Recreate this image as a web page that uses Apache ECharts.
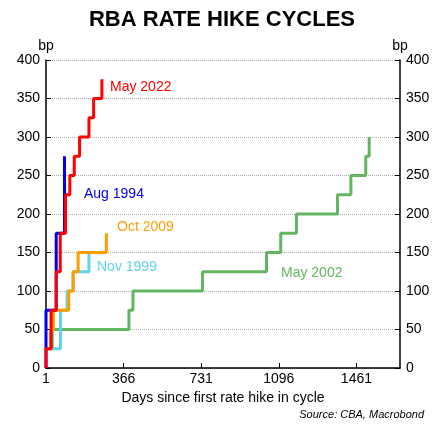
<!DOCTYPE html><html><head><meta charset="utf-8"><script src="https://cdn.jsdelivr.net/npm/echarts@6/dist/echarts.min.js"></script>
<style>html,body{margin:0;padding:0;background:#fff}#c{width:444px;height:434px}</style></head><body><div id="c"></div><script>
const xTicks=[1,366,731,1096,1461];
const yTicks=[0,50,100,150,200,250,300,350,400];
const may2002=[[1,25],[30,25],[30,50],[391,50],[391,75],[410,75],[410,100],[737,100],[737,125],[1038,125],[1038,150],[1105,150],[1105,175],[1179,175],[1179,200],[1372,200],[1372,225],[1435,225],[1435,250],[1505,250],[1505,275],[1521,275],[1521,300]];
const nov1999=[[1,25],[69,25],[69,75],[100,75],[100,100],[128,100],[128,125],[203,125],[203,150]];
const oct2009=[[1,25],[22,25],[22,50],[36,50],[36,75],[108,75],[108,100],[129,100],[129,125],[152,125],[152,150],[285,150],[285,175]];
const aug1994=[[1,0],[1,75],[49,75],[49,175],[88,175],[88,275]];
const may2022=[[1,0],[1,25],[25,25],[25,75],[49,75],[49,125],[68,125],[68,175],[93,175],[93,225],[113,225],[113,250],[134,250],[134,275],[159,275],[159,300],[203,300],[203,325],[225,325],[225,350],[264,350],[264,375]];
const ff='Liberation Sans, Arial, sans-serif';
const c=echarts.init(document.getElementById('c'));
const mk=(n,d,col)=>({name:n,type:'line',data:d,showSymbol:false,symbol:'none',lineStyle:{color:col,width:3},itemStyle:{color:col},animation:false});
c.setOption({
 animation:false,
 title:{text:'RBA RATE HIKE CYCLES',left:'center',top:4,textStyle:{fontFamily:ff,fontWeight:'bold',fontSize:22,color:'#000'}},
 grid:{left:46,right:44,top:60,bottom:66},
 xAxis:{type:'value',min:1,max:1666,name:'Days since first rate hike in cycle',nameLocation:'middle',nameGap:20,nameTextStyle:{fontFamily:ff,fontSize:14,color:'#000'},
  axisLine:{lineStyle:{color:'#000',width:1.5}},axisTick:{customValues:xTicks,length:5,inside:true,lineStyle:{color:'#000'}},axisLabel:{customValues:xTicks,formatter:v=>String(v),fontFamily:ff,fontSize:14,color:'#000',margin:4},splitLine:{show:false}},
 yAxis:[{type:'value',min:0,max:400,interval:50,name:'bp',nameGap:6,nameTextStyle:{fontFamily:ff,fontSize:14,color:'#000',align:'center'},axisLine:{show:true,lineStyle:{color:'#000',width:1.5}},axisTick:{show:true,inside:true,length:5,lineStyle:{color:'#000'}},axisLabel:{fontFamily:ff,fontSize:14,color:'#000',margin:6},splitLine:{lineStyle:{type:'dotted',color:'#aaa'}}},
 {type:'value',min:0,max:400,interval:50,position:'right',name:'bp',nameGap:6,nameTextStyle:{fontFamily:ff,fontSize:14,color:'#000',align:'center'},axisLine:{show:true,lineStyle:{color:'#000',width:1.5}},axisTick:{show:true,inside:true,length:5,lineStyle:{color:'#000'}},axisLabel:{fontFamily:ff,fontSize:14,color:'#000',margin:6},splitLine:{show:false}}],
 series:[mk('May 2002',may2002,'#63b463'),mk('Nov 1999',nov1999,'#5fd3ea'),mk('Oct 2009',oct2009,'#ff9d00'),mk('Aug 1994',aug1994,'#0000ee'),mk('May 2022',may2022,'#ff0000')],
 graphic:[
  {type:'text',left:110,top:80,style:{text:'May 2022',fill:'#ff0000',font:'14px '+ff}},
  {type:'text',left:84,top:187,style:{text:'Aug 1994',fill:'#0000ee',font:'14px '+ff}},
  {type:'text',left:117,top:220,style:{text:'Oct 2009',fill:'#ff9d00',font:'14px '+ff}},
  {type:'text',left:97,top:260,style:{text:'Nov 1999',fill:'#5fd3ea',font:'14px '+ff}},
  {type:'text',left:281,top:266,style:{text:'May 2002',fill:'#63b463',font:'14px '+ff}},
  {type:'text',right:20,top:409,style:{text:'Source: CBA, Macrobond',fill:'#000',font:'italic 11px '+ff}}
 ]
});
</script></body></html>
